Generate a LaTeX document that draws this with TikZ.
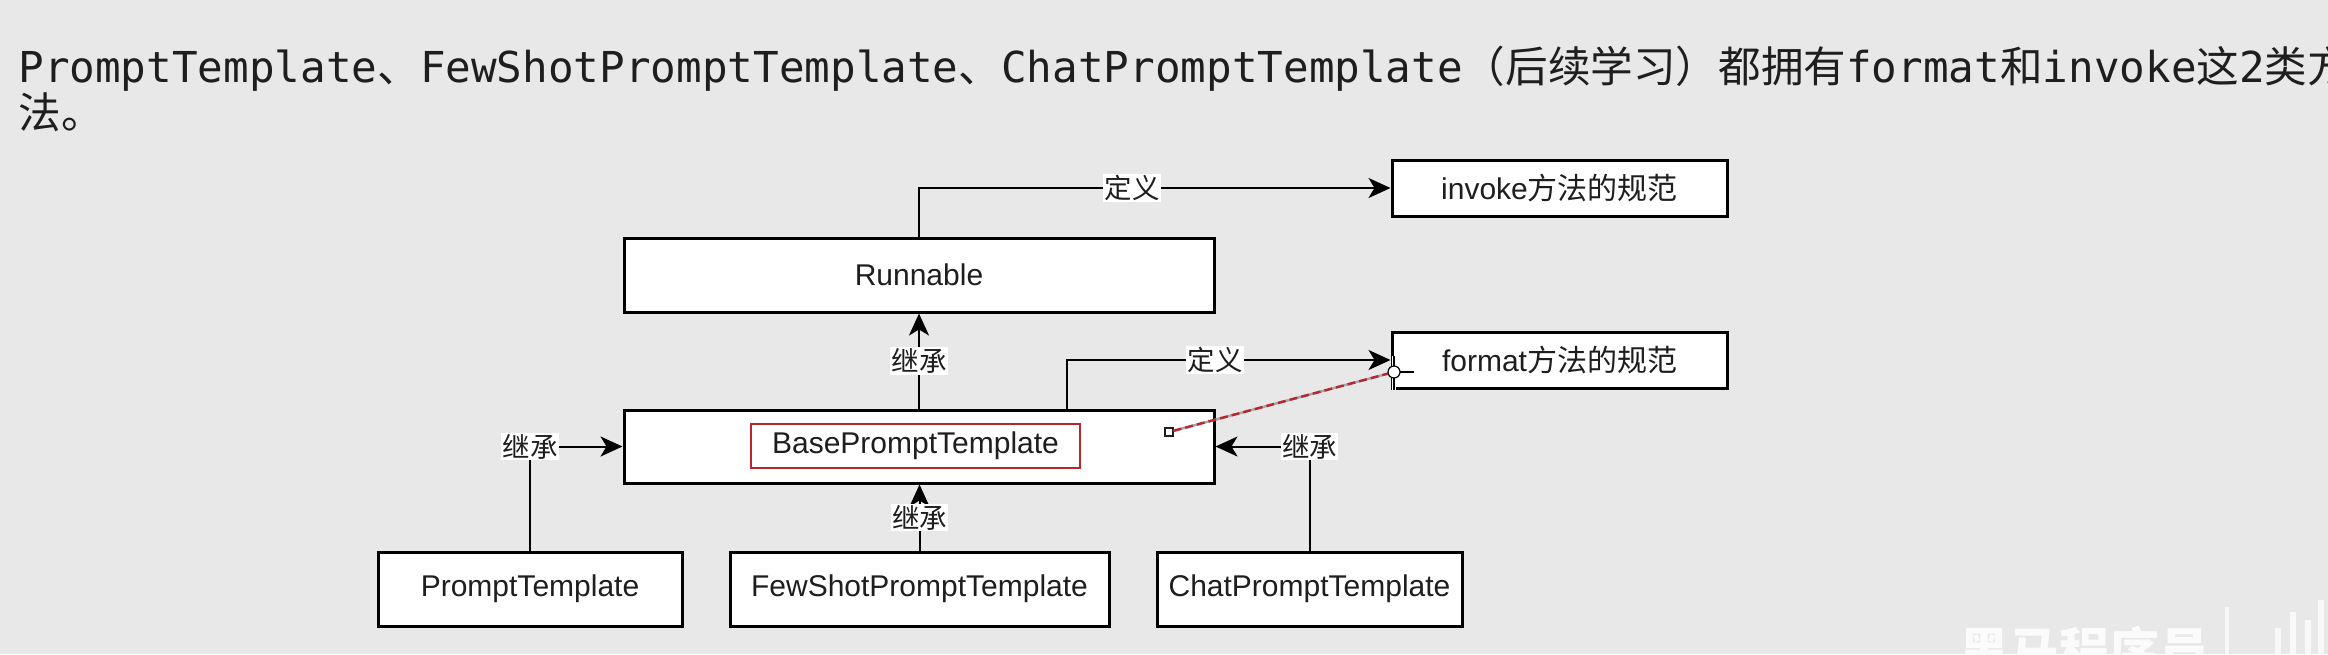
\documentclass[tikz,border=0pt]{standalone}
\usepackage{fontspec}
\setmainfont{Liberation Sans}
\newfontfamily\cjk{Noto Sans CJK SC}
\newfontfamily\ttl{DejaVu Sans Mono}
\usetikzlibrary{arrows.meta}
\definecolor{bg}{HTML}{E8E8E8}
\definecolor{ink}{HTML}{1E1E1E}
\definecolor{redline}{HTML}{B8262E}
\begin{document}
\begin{tikzpicture}[x=0.5pt,y=-0.5pt,
  box/.style={draw=black, line width=1.5pt, fill=white, inner sep=0pt, text=ink,
    font=\fontsize{15pt}{17pt}\selectfont},
  redbox/.style={draw=redline, line width=1pt, fill=white, inner sep=0pt, text=ink,
    font=\fontsize{15pt}{17pt}\selectfont},
  conn/.style={line width=1pt, draw=black, -{Stealth[length=11pt,width=10pt,inset=3pt]}},
  lbl/.style={fill=white, inner sep=0.6pt, text=ink, font=\cjk\fontsize{13.75pt}{15pt}\selectfont},
  titletext/.style={anchor=base west, inner sep=0pt, text=ink, font=\fontsize{21.3pt}{23pt}\selectfont}
]
\fill[bg] (0,0) rectangle (2328,654);
\useasboundingbox (0,0) rectangle (2328,654);

% title
\node[titletext] (t1) at (18,82) {\ttl PromptTemplate{\cjk 、}FewShotPromptTemplate{\cjk 、}ChatPromptTemplate{\cjk （后续学习）都拥有}format{\cjk 和}invoke{\cjk 这}2{\cjk 类方}};
\node[titletext] (t2) at (18,128) {\cjk 法。};

% boxes
\node[box, minimum width=295pt, minimum height=37pt] (run) at (919,275) {Runnable};
\node[box, minimum width=295pt, minimum height=36.5pt] (base) at (919,446.5) {};
\node[redbox, minimum width=164.5pt, minimum height=22pt] (baselbl) at (915.5,446) {BasePromptTemplate};
\node[box, minimum width=167.5pt, minimum height=28pt] (invoke) at (1559.5,188) {invoke{\cjk 方法的规范}};
\node[box, minimum width=167.5pt, minimum height=28pt] (format) at (1559.5,360) {format{\cjk 方法的规范}};
\node[box, minimum width=152pt, minimum height=37pt] (prompt) at (530,589) {PromptTemplate};
\node[box, minimum width=189.5pt, minimum height=37pt] (fewshot) at (919.5,589) {FewShotPromptTemplate};
\node[box, minimum width=152.5pt, minimum height=37pt] (chat) at (1309.5,589) {ChatPromptTemplate};

% connectors
\draw[conn] (run.north) |- (invoke.west) node[lbl, pos=0.726] {定义};
\draw[conn] ([xshift=74pt]base.north) |- (format.west) node[lbl, pos=0.729] {定义};
\draw[conn] (base.north) -- (run.south) node[lbl, midway] {继承};
\draw[conn] (fewshot.north) -- (fewshot.north |- base.south) node[lbl, midway] {继承};
\draw[conn] (prompt.north) |- (base.west) node[lbl, pos=0.5] {继承};
\draw[conn] (chat.north) |- (base.east) node[lbl, pos=0.5] {继承};

% editing artefact: dashed red guide with handle and cursor
\node[draw=ink, fill=white, line width=0.6pt, minimum size=4pt, inner sep=0pt] (handle) at (1169,432) {};
\coordinate (cur) at (1394,372);
\draw[gray!70, line width=1.2pt] (handle) -- (cur);
\draw[redline, line width=1.2pt, dash pattern=on 4pt off 2pt] (handle) -- (cur);
\draw[white, line width=2.4pt] (1394,356) -- (1394,390) (1394,372) -- (1414,372);
\draw[black, line width=1pt] (1394,356) -- (1394,390) (1394,372) -- (1414,372);
\draw[black, fill=white, line width=0.6pt] (cur) circle[radius=3pt];

% watermark
\node[anchor=base west, inner sep=0pt, text=white, opacity=0.85,
  font=\cjk\bfseries\fontsize{25pt}{26pt}\selectfont] (wm) at (1959,669) {黑马程序员};
\fill[white, opacity=0.7] (2225,607) rectangle (2229,654);
\fill[white, opacity=0.7] (2275,628) rectangle (2281,654);
\fill[white, opacity=0.7] (2290,612) rectangle (2296,654);
\fill[white, opacity=0.7] (2305,620) rectangle (2311,654);
\fill[white, opacity=0.7] (2318,600) rectangle (2324,654);
\end{tikzpicture}
\end{document}
